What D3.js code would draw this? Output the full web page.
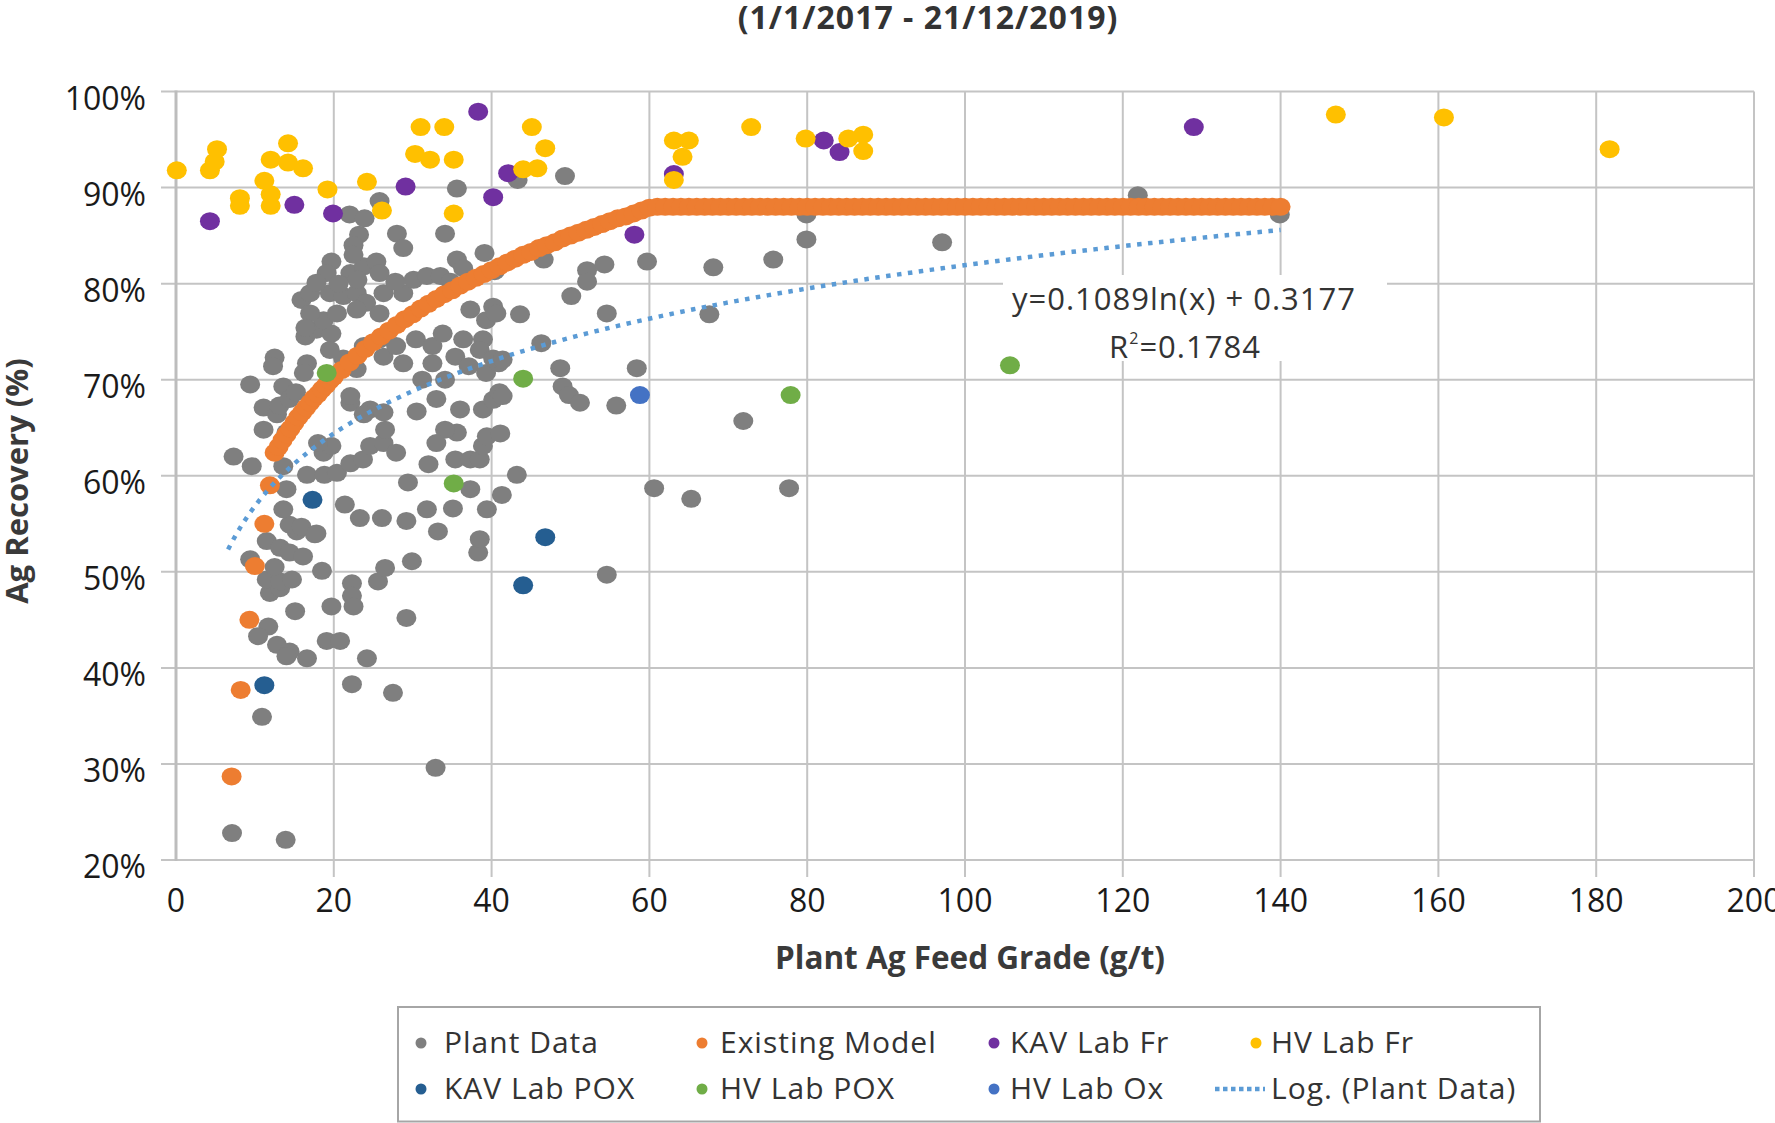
<!DOCTYPE html>
<html><head><meta charset="utf-8">
<script src="https://cdn.jsdelivr.net/npm/d3@7"></script>
<style>html,body{margin:0;padding:0;background:#fff;}svg{display:block;font-family:"Open Sans",sans-serif;}</style>
</head><body><svg id="chart" width="1775" height="1123"></svg>
<script>
// ---------- data ----------
const chartTitle = "(1/1/2017 - 21/12/2019)";
const xAxisTitle = "Plant Ag Feed Grade (g/t)";
const yAxisTitle = "Ag Recovery (%)";
const xTicks = [0, 20, 40, 60, 80, 100, 120, 140, 160, 180, 200];
const yTicks = [20, 30, 40, 50, 60, 70, 80, 90, 100];

const plantData = [
 [7.1,22.8],[13.9,22.1],[32.9,29.6],[10.9,34.9],[22.3,38.3],[27.5,37.4],
 [11.7,44.3],[10.4,43.3],[12.8,42.4],[14.4,41.7],[14.0,41.2],[16.6,41.0],[19.1,42.8],[20.8,42.8],[24.2,41.0],
 [15.1,45.9],[19.7,46.4],[22.3,48.8],[22.3,47.5],[22.5,46.4],[29.2,45.2],
 [11.9,47.8],[13.2,48.3],[11.5,49.2],[13.2,49.0],[14.7,49.2],[12.5,50.5],[9.4,51.3],[11.5,53.2],[13.2,52.5],[14.4,52.0],[16.1,51.6],[18.5,50.1],[17.6,53.9],[25.6,49.0],[26.5,50.4],[29.9,51.1],
 [38.3,52.0],[38.5,53.4],[33.2,54.2],[15.3,54.2],[14.4,54.9],[15.9,54.7],[17.8,54.0],[13.6,56.5],[14.0,58.6],
 [21.4,57.0],[23.3,55.6],[26.1,55.6],[29.2,55.3],[31.8,56.5],[35.1,56.6],[39.4,56.5],[41.3,58.0],[37.3,58.6],[29.4,59.3],
 [43.2,60.1],[32.0,61.2],[35.4,61.7],[37.3,61.7],[38.5,61.7],[38.9,63.1],[39.4,64.1],[35.6,64.5],[34.1,64.8],[33.0,63.4],[30.5,66.7],[38.9,66.9],[40.2,67.9],
 [16.6,60.1],[18.8,60.1],[20.4,60.3],[22.1,61.3],[23.7,61.7],[18.7,62.4],[19.7,63.1],[18.0,63.4],[24.6,63.1],[26.3,63.4],[26.5,64.8],[27.9,62.4],[24.6,66.9],[22.1,67.6],
 [7.3,62.0],[9.6,61.0],[13.6,61.0],[11.1,64.8],[14.0,64.5],[11.1,67.1],[12.8,66.4],
 [9.4,69.5],[13.6,69.3],[13.1,67.3],[14.4,68.0],[15.2,68.7],[22.1,68.3],[23.8,66.4],[26.3,66.6],[33.0,68.0],[36.0,66.9],[41.0,68.7],
 [12.5,72.3],[12.3,71.4],[16.6,71.7],[16.2,70.7],[21.2,72.2],[22.9,71.1],[26.3,72.4],[28.8,71.7],[32.5,71.7],[35.4,72.4],[37.1,71.4],[39.3,70.7],[40.9,71.7],[31.2,70.0],[34.1,70.0],
 [16.4,74.5],[17.8,75.2],[19.7,74.8],[23.8,73.5],[25.8,74.2],[27.9,73.5],[30.4,74.2],[32.5,73.5],[33.8,74.8],[36.4,74.2],[38.9,74.2],[38.5,73.1],[40.2,72.2],[46.3,73.8],[19.5,73.1],
 [15.9,78.3],[17.0,79.0],[19.5,79.0],[21.2,78.7],[22.9,79.0],[24.1,78.0],[26.3,79.0],[25.8,76.9],[28.8,79.0],[37.3,77.3],[40.2,77.6],[39.3,76.2],[40.6,76.9],[43.6,76.8],[18.7,76.2],[20.4,76.9],[22.9,77.3],[17.0,76.9],[16.4,75.4],
 [19.7,82.3],[19.1,81.1],[22.1,81.1],[23.8,81.8],[25.4,82.3],[25.8,81.1],[23.0,80.4],[20.6,80.0],[17.8,80.1],[27.8,80.2],[30.1,80.4],[31.8,80.8],[33.5,80.8],[34.8,80.2],[40.4,81.3],
 [23.2,85.1],[28.0,85.2],[34.1,85.2],[28.8,83.7],[22.5,84.0],[22.5,83.0],[39.1,83.2],[35.6,82.5],[36.4,81.6],
 [25.8,88.6],[35.6,89.9],[43.3,90.8],[22.0,87.2],[23.9,86.8],
 [49.3,91.2],[46.6,82.5],[52.1,81.4],[54.3,82.0],[59.7,82.3],[52.1,80.2],[50.1,78.7],[68.1,81.7],[75.7,82.5],[79.9,84.6],[79.9,87.2],[97.1,84.3],[121.9,89.2],[139.9,87.2],
 [54.6,76.9],[67.6,76.8],[41.4,72.1],[48.7,71.2],[58.4,71.2],[49.0,69.3],[49.8,68.4],[51.2,67.6],[55.8,67.3],[41.4,68.3],[41.1,64.4],[71.9,65.7],
 [60.6,58.7],[65.3,57.6],[77.7,58.7],[54.6,49.7]
];

const modelData = [
 [7.05,28.7],[8.2,37.7],[9.3,45.0],[10.0,50.6],[11.2,55.0],[11.9,59.0],
 [12.5,62.4],[13,63.0],[13.5,63.7],[14,64.3],[14.5,64.9],[15,65.5],[15.5,66.1],[16,66.6],[16.5,67.1],[17,67.6],[17.5,68.1],[18,68.5],[18.5,69.0],[19,69.4],[19.5,69.9],[20,70.3],
 [21,71.0],[22,71.8],[23,72.5],[24,73.2],[25,73.9],[26,74.5],[27,75.1],[28,75.7],[29,76.3],[30,76.8],
 [31,77.4],[32,77.9],[33,78.4],[34,78.9],[35,79.3],[36,79.8],[37,80.2],[38,80.6],[39,81.0],[40,81.4],
 [41,81.8],[42,82.2],[43,82.6],[44,83.0],[45,83.3],[46,83.7],[47,84.0],[48,84.3],[49,84.7],[50,85.0],
 [51,85.3],[52,85.6],[53,85.9],[54,86.2],[55,86.5],[56,86.8],[57,87.0],[58,87.3],[59,87.6],[60,87.9],
 [61,88],[62,88],[63,88],[64,88],[65,88],[66,88],[67,88],[68,88],[69,88],[70,88],
 [71,88],[72,88],[73,88],[74,88],[75,88],[76,88],[77,88],[78,88],[79,88],[80,88],
 [81,88],[82,88],[83,88],[84,88],[85,88],[86,88],[87,88],[88,88],[89,88],[90,88],
 [91,88],[92,88],[93,88],[94,88],[95,88],[96,88],[97,88],[98,88],[99,88],[100,88],
 [101,88],[102,88],[103,88],[104,88],[105,88],[106,88],[107,88],[108,88],[109,88],[110,88],
 [111,88],[112,88],[113,88],[114,88],[115,88],[116,88],[117,88],[118,88],[119,88],[120,88],
 [121,88],[122,88],[123,88],[124,88],[125,88],[126,88],[127,88],[128,88],[129,88],[130,88],
 [131,88],[132,88],[133,88],[134,88],[135,88],[136,88],[137,88],[138,88],[139,88],[140,88]
];

const kavLabFr = [[4.3,86.5],[15.0,88.2],[19.9,87.3],[29.1,90.1],[38.3,97.9],[40.2,89.0],[42.1,91.5],[58.1,85.1],[63.1,91.4],[82.1,94.9],[84.1,93.7],[129.0,96.3]];

const hvLabFr = [[0.1,91.8],[4.3,91.8],[4.9,92.7],[5.2,94.0],[8.1,88.9],[8.1,88.1],[11.2,90.7],[12.0,92.9],[12.0,89.3],[12.0,88.1],
 [14.2,94.6],[14.2,92.6],[16.1,92.0],[19.2,89.8],[24.2,90.6],[26.1,87.6],[31.0,96.3],[34.0,96.3],[30.3,93.5],[32.2,92.9],
 [35.2,92.9],[35.2,87.3],[44.0,91.9],[45.8,92.0],[45.1,96.3],[46.8,94.1],[63.1,90.8],[63.1,94.9],[65.0,94.9],[64.2,93.2],
 [72.9,96.3],[79.8,95.1],[85.2,95.1],[87.1,95.5],[87.1,93.8],[147.0,97.6],[160.7,97.3],[181.7,94.0]];

const kavLabPox = [[17.3,57.5],[11.2,38.2],[44.0,48.6],[46.8,53.6]];
const hvLabPox = [[19.1,70.7],[44.0,70.1],[35.2,59.2],[77.9,68.4],[105.7,71.5]];
const hvLabOx = [[58.8,68.4]];

const trendCoefA = 0.1089, trendCoefB = 0.3177, trendRange = [6.6, 140];
const trendLine1 = "y=0.1089ln(x) + 0.3177";
const trendLine2Base = "R", trendLine2Sup = "2", trendLine2Rest = "=0.1784";

const seriesNames = ["Plant Data","Existing Model","KAV Lab Fr","HV Lab Fr","KAV Lab POX","HV Lab POX","HV Lab Ox","Log. (Plant Data)"];
const seriesColors = ["#7f7f7f","#ed7d31","#7030a0","#ffc000","#255e91","#70ad47","#4472c4","#5b9bd5"];

// ---------- drawing ----------
const svg = d3.select("#chart");
const x = d3.scaleLinear().domain([0, 200]).range([176, 1754]);
const y = d3.scaleLinear().domain([20, 100]).range([860, 91.5]);

// gridlines
svg.append("g").selectAll("line").data(yTicks).join("line")
  .attr("x1", 161).attr("x2", x(200)).attr("y1", d => y(d)).attr("y2", d => y(d))
  .attr("stroke", "#c4c4c4").attr("stroke-width", 2);
svg.append("g").selectAll("line").data(xTicks.filter(d => d > 0)).join("line")
  .attr("x1", d => x(d)).attr("x2", d => x(d)).attr("y1", y(100)).attr("y2", 877)
  .attr("stroke", "#c4c4c4").attr("stroke-width", 2);
svg.append("line").attr("x1", x(0)).attr("x2", x(0)).attr("y1", y(100) - 1).attr("y2", y(20) + 1)
  .attr("stroke", "#bdbdbd").attr("stroke-width", 3);

// equation label background (covers gridlines)
svg.append("rect").attr("x", 1003).attr("y", 275).attr("width", 384).attr("height", 86).attr("fill", "#fff");

// tick labels
svg.append("g").selectAll("text").data(yTicks).join("text")
  .attr("x", 146).attr("y", d => y(d) + 18).attr("text-anchor", "end")
  .attr("font-size", 32).attr("fill", "#1a1a1a").text(d => d + "%");
svg.append("g").selectAll("text").data(xTicks).join("text")
  .attr("x", d => x(d)).attr("y", 912).attr("text-anchor", "middle")
  .attr("font-size", 32).attr("fill", "#1a1a1a").text(d => d);

// axis titles & title
svg.append("text").attr("x", 970).attr("y", 969).attr("text-anchor", "middle")
  .attr("font-size", 31.5).attr("font-weight", 700).attr("fill", "#3a3a3a").text(xAxisTitle);
svg.append("text").attr("transform", "translate(28,481) rotate(-90)").attr("text-anchor", "middle")
  .attr("font-size", 31).attr("font-weight", 700).attr("fill", "#3a3a3a").text(yAxisTitle);
svg.append("text").attr("x", 928).attr("y", 29).attr("text-anchor", "middle")
  .attr("font-size", 32).attr("letter-spacing", 1).attr("font-weight", 700).attr("fill", "#333").text(chartTitle);

// series
function drawSeries(data, color) {
  svg.append("g").selectAll("ellipse").data(data).join("ellipse")
    .attr("cx", d => x(d[0])).attr("cy", d => y(d[1])).attr("rx", 10).attr("ry", 9)
    .attr("fill", color);
}
drawSeries(plantData, seriesColors[0]);
drawSeries(modelData, seriesColors[1]);
drawSeries(kavLabFr, seriesColors[2]);
drawSeries(hvLabFr, seriesColors[3]);
drawSeries(kavLabPox, seriesColors[4]);
drawSeries(hvLabPox, seriesColors[5]);
drawSeries(hvLabOx, seriesColors[6]);

// log trendline from its displayed equation
const trendXs = d3.range(trendRange[0], trendRange[1], 0.5).concat([trendRange[1]]);
const trendLine = d3.line().x(d => x(d)).y(d => y(100 * (trendCoefA * Math.log(d) + trendCoefB)));
svg.append("path").attr("d", trendLine(trendXs)).attr("fill", "none")
  .attr("stroke", seriesColors[7]).attr("stroke-width", 4.5)
  .attr("stroke-dasharray", "4.5 6.5");

// equation text
svg.append("text").attr("x", 1184).attr("y", 310).attr("text-anchor", "middle")
  .attr("font-size", 31).attr("letter-spacing", 1).attr("fill", "#333").text(trendLine1);
const t2 = svg.append("text").attr("x", 1185).attr("y", 358).attr("text-anchor", "middle")
  .attr("font-size", 31).attr("letter-spacing", 1).attr("fill", "#333");
t2.append("tspan").text(trendLine2Base);
t2.append("tspan").attr("font-size", 16).attr("dy", -14).text(trendLine2Sup);
t2.append("tspan").attr("dy", 14).text(trendLine2Rest);

// legend
svg.append("rect").attr("x", 398).attr("y", 1007).attr("width", 1142).attr("height", 114.5)
  .attr("fill", "none").attr("stroke", "#a6a6a6").attr("stroke-width", 2);
const legendMarkerX = [421, 702, 994, 1256];
const legendTextX = [444, 720, 1010, 1271];
const legendRowY = [1043, 1089];
seriesNames.forEach((name, i) => {
  const col = i % 4, row = Math.floor(i / 4);
  const cy = legendRowY[row];
  if (i === 7) {
    svg.append("line").attr("x1", 1215).attr("x2", 1265).attr("y1", cy).attr("y2", cy)
      .attr("stroke", seriesColors[i]).attr("stroke-width", 4.5)
      .attr("stroke-dasharray", "4.5 3.5");
  } else {
    svg.append("ellipse").attr("cx", legendMarkerX[col]).attr("cy", cy).attr("rx", 5.5).attr("ry", 5.5)
      .attr("fill", seriesColors[i]);
  }
  svg.append("text").attr("x", legendTextX[col]).attr("y", cy + 10).attr("font-size", 30)
    .attr("letter-spacing", 1).attr("fill", "#333").text(name);
});
</script></body></html>
